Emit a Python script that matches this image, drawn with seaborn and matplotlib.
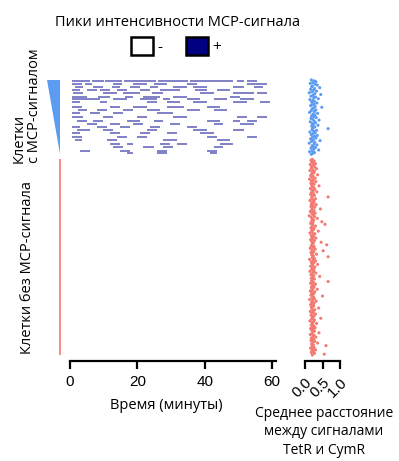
import numpy as np
import pandas as pd
import seaborn as sns
import matplotlib.pyplot as plt
from matplotlib.patches import Patch

# cells with MCP signal: row index -> list of peak spans (start, end) in minutes
peak_cells = [1, 5, 8, 12, 15, 20, 22, 26, 32, 35, 39, 43, 48, 52, 55, 59, 62, 67, 70, 75, 78, 83, 85]
peak_spans = [
    [(0.5, 6), (6.5, 10), (10.5, 15.5), (16, 25.5), (26, 35), (35.5, 48.5), (49.5, 51.5), (52.5, 55.5)],
    [(0.5, 3.5), (4.5, 6.4), (12.9, 15.3), (18.8, 22.8), (24.8, 28.7), (34.7, 37.6), (52.5, 58.4)],
    [(1.5, 4), (6.9, 9.9), (12.4, 14.9), (17.8, 20.8), (23.8, 26.2), (30.7, 34.7), (36.6, 40.6), (48.5, 51.5), (54.5, 57.4)],
    [(0.5, 3), (5, 7.9), (8.9, 11.9), (13.9, 16.8), (20.8, 23.8), (26.7, 32.7), (37.1, 40.6), (43.6, 47.5)],
    [(1, 4), (9.9, 13.9), (15.8, 20.8), (24.3, 27.7), (38.6, 42.6), (48.5, 54.5), (55.4, 58.4)],
    [(0.5, 5), (8.4, 11.9), (16.3, 18.8), (21.8, 26.7), (30.7, 34.7), (47.5, 50.5)],
    [(0.5, 8.9), (12.9, 16.8), (20.8, 25.7), (27.7, 29.7), (34.7, 38.6), (42.6, 46.5), (50.5, 54.5)],
    [(0.5, 3), (8.9, 10.9), (22.8, 25.7), (28.7, 32.7), (36.6, 40.6), (48.5, 52.5), (56.4, 59.4)],
    [(0.5, 3.5), (11.9, 14.9), (18.8, 22.8), (28.7, 33.7), (40.6, 44.6)],
    [(2.5, 5), (7.9, 10.9), (15.8, 18.8), (22.8, 26.7), (34.7, 38.6), (42.6, 46.5)],
    [(0.5, 3), (5.9, 8.9), (12.9, 15.8), (25.7, 30.7)],
    [(0.5, 4), (9.9, 12.9), (19.8, 22.8), (30.7, 34.7), (49.5, 52.5), (55.4, 58.4)],
    [(2, 5), (6.9, 9.9), (16.8, 20.8), (24.8, 27.7), (40.6, 44.6), (48.5, 50.5), (52.5, 55.4)],
    [(5, 7.9), (11.9, 14.9), (18.8, 21.8), (29.7, 32.7), (42.6, 45.5), (50.5, 54.5)],
    [(0.5, 3), (7.9, 10.9), (14.9, 17.8), (23.8, 26.7), (34.7, 37.6)],
    [(2, 5.9), (9.9, 12.9), (22.8, 25.7), (36.6, 40.6), (48.5, 51.5)],
    [(0.5, 3), (11.9, 14.9), (20.8, 23.8), (28.7, 31.7), (38.6, 42.6)],
    [(0.5, 3.5), (13.9, 16.8), (19.8, 22.8), (40.6, 43.6), (52.5, 55.4)],
    [(1.5, 3.5), (10.9, 13.9), (27.7, 31.7), (43.6, 47.5)],
    [(11.9, 14.9), (16.8, 18.8), (26.7, 29.7), (31.7, 34.7), (44.6, 48.5)],
    [(12.9, 15.8), (21.8, 24.8), (27.7, 30.7), (42.6, 45.5)],
    [(3, 5.9), (14.9, 17.8), (25.7, 28.7), (40.6, 43.6)],
    [(16.8, 18.8), (25.7, 28.7), (41.6, 43.6)],
]

# mean TetR-CymR distance per cell
dist_mcp = [
    0.18, 0.26, 0.31, 0.22, 0.15, 0.29, 0.35, 0.21, 0.19, 0.42,
    0.27, 0.16, 0.24, 0.33, 0.2, 0.12, 0.28, 0.45, 0.23, 0.17,
    0.3, 0.25, 0.38, 0.14, 0.22, 0.27, 0.19, 0.34, 0.26, 0.21,
    0.16, 0.29, 0.48, 0.24, 0.2, 0.31, 0.18, 0.27, 0.13, 0.36,
    0.23, 0.28, 0.19, 0.25, 0.32, 0.17, 0.22, 0.4, 0.26, 0.15,
    0.3, 0.21, 0.24, 0.37, 0.19, 0.28, 0.23, 0.66, 0.2, 0.33,
    0.25, 0.14, 0.29, 0.22, 0.18, 0.35, 0.27, 0.21, 0.31, 0.16,
    0.24, 0.43, 0.19, 0.28, 0.12, 0.26, 0.34, 0.2, 0.23, 0.3,
    0.17, 0.25, 0.39, 0.21, 0.13, 0.27, 0.22, 0.18,
]
dist_none = [
    0.21, 0.17, 0.26, 0.19, 0.23, 0.3, 0.15, 0.24, 0.2, 0.28,
    0.18, 0.33, 0.22, 0.14, 0.27, 0.21, 0.25, 0.19, 0.36, 0.16,
    0.23, 0.2, 0.29, 0.13, 0.24, 0.18, 0.31, 0.22, 0.17, 0.26,
    0.19, 0.4, 0.21, 0.25, 0.15, 0.28, 0.2, 0.23, 0.34, 0.18,
    0.24, 0.16, 0.27, 0.21, 0.66, 0.19, 0.3, 0.22, 0.14, 0.26,
    0.2, 0.25, 0.18, 0.32, 0.23, 0.17, 0.28, 0.21, 0.44, 0.19,
    0.26, 0.15, 0.22, 0.29, 0.2, 0.24, 0.12, 0.27, 0.18, 0.35,
    0.21, 0.25, 0.19, 0.48, 0.23, 0.16, 0.57, 0.22, 0.3, 0.2,
    0.17, 0.26, 0.24, 0.19, 0.38, 0.21, 0.14, 0.28, 0.23, 0.18,
    0.25, 0.2, 0.31, 0.22, 0.16, 0.27, 0.19, 0.46, 0.24, 0.21,
    0.62, 0.18, 0.26, 0.23, 0.15, 0.29, 0.2, 0.52, 0.25, 0.17,
    0.22, 0.33, 0.19, 0.24, 0.66, 0.21, 0.27, 0.13, 0.23, 0.3,
    0.18, 0.25, 0.2, 0.36, 0.22, 0.16, 0.28, 0.21, 0.24, 0.19,
    0.26, 0.14, 0.23, 0.31, 0.2, 0.17, 0.25, 0.42, 0.22, 0.18,
    0.27, 0.21, 0.19, 0.66, 0.24, 0.16, 0.3, 0.22, 0.2, 0.26,
    0.18, 0.23, 0.35, 0.21, 0.15, 0.28, 0.19, 0.25, 0.22, 0.17,
    0.5, 0.24, 0.2, 0.27, 0.13, 0.22, 0.32, 0.19, 0.26, 0.21,
    0.16, 0.25, 0.23, 0.18, 0.39, 0.2, 0.28, 0.22, 0.15, 0.24,
    0.21, 0.3, 0.17, 0.26, 0.2, 0.23, 0.45, 0.19, 0.27, 0.14,
    0.24, 0.2, 0.33, 0.22, 0.18, 0.25, 0.21, 0.29, 0.16, 0.23,
    0.19, 0.27, 0.22, 0.4, 0.2, 0.15, 0.26, 0.23, 0.31, 0.18,
    0.25, 0.21, 0.17, 0.28, 0.22, 0.36, 0.19, 0.24, 0.6, 0.2,
    0.26, 0.16, 0.23, 0.3, 0.2, 0.24, 0.18, 0.27, 0.55, 0.21,
]

time_ticks = [0, 20, 40, 60]
dist_ticks = [0.0, 0.5, 1.0]

blue = "#5b9bf0"
red = "#f27a72"
navy = "#4545ad"

n_mcp = len(dist_mcp)
gap = 5
none_start = n_mcp + gap
cells_mcp = np.arange(n_mcp)
cells_none = np.arange(none_start, none_start + len(dist_none))

df = pd.DataFrame({
    "cell": np.concatenate([cells_mcp, cells_none]),
    "dist": dist_mcp + dist_none,
    "group": ["mcp"] * n_mcp + ["none"] * len(dist_none),
})

sns.set_style("white")
plt.rcParams["font.family"] = ["Open Sans", "DejaVu Sans"]
plt.rcParams["text.color"] = "black"

W, H = 399, 461
fig = plt.figure(figsize=(W / 100, H / 100), dpi=100)

ylo, yhi = 329, -2.3
bot, top = 1 - 361 / H, 1 - 78 / H

ax = fig.add_axes([70 / W, bot, 205.6 / W, top - bot])
ax_grp = fig.add_axes([44 / W, bot, 18 / W, top - bot])
ax_sc = fig.add_axes([305 / W, bot, 35 / W, top - bot])

# peak raster
for cell, spans in zip(peak_cells, peak_spans):
    starts = [s for s, e in spans]
    ends = [e for s, e in spans]
    ax.hlines([cell] * len(spans), starts, ends, color=navy, lw=1.2, alpha=0.8)

ax.set_xlim(0, 61)
ax.set_ylim(ylo, yhi)

# group markers
ax_grp.fill([0.17, 0.89, 0.89], [0, 0, n_mcp - 1], color=blue, lw=0)
ax_grp.vlines(0.89, cells_none[0], cells_none[-1], color=red, lw=1.2)
ax_grp.set_xlim(0, 1)
ax_grp.set_ylim(ylo, yhi)
ax_grp.axis("off")

# distance scatter
sns.scatterplot(data=df, x="dist", y="cell", hue="group",
                palette={"mcp": blue, "none": red}, s=5, linewidth=0,
                legend=False, ax=ax_sc)
ax_sc.set_xlim(0, 1)
ax_sc.set_ylim(ylo, yhi)

tick_font = {"family": ["Liberation Sans", "DejaVu Sans"], "size": 11}
for a, ticks in [(ax, time_ticks), (ax_sc, dist_ticks)]:
    for side in ["top", "right", "left"]:
        a.spines[side].set_visible(False)
    a.spines["bottom"].set_linewidth(1.6)
    a.spines["bottom"].set_color("black")
    a.set_yticks([])
    a.set_xticks(ticks)
    a.tick_params(axis="x", bottom=True, direction="out", length=6, width=1.6,
                  color="black", labelcolor="black", pad=4)
    a.set_xlabel("")
    a.set_ylabel("")

ax.set_xticklabels([str(t) for t in time_ticks], fontdict=tick_font)
ax_sc.set_xticklabels([f"{t:.1f}" for t in dist_ticks], fontdict=tick_font,
                      rotation=45, ha="right", rotation_mode="anchor")

# texts
fig.text(178 / W, 1 - 23 / H, "Пики интенсивности MCP-сигнала", ha="center", va="center", fontsize=10.5)
fig.legend(handles=[Patch(facecolor="white", edgecolor="black", lw=1.8),
                    Patch(facecolor="#000080", edgecolor="black", lw=1.8)],
           labels=["-", "+"], loc="center", bbox_to_anchor=(176 / W, 1 - 46 / H),
           ncol=2, frameon=False, handlelength=1.45, handleheight=1.45,
           handletextpad=0.3, columnspacing=1.5, fontsize=11)

fig.text(27 / W, 1 - 163 / H, "Клетки\nс MCP-сигналом", rotation=90, ha="center", va="bottom",
         multialignment="left", fontsize=10.5, linespacing=1.05)
fig.text(28 / W, 1 - 267 / H, "Клетки без MCP-сигнала", rotation=90, ha="center", va="center",
         fontsize=10.5)
fig.text(166 / W, 1 - 405 / H, "Время (минуты)", ha="center", va="center", fontsize=10.5)
fig.text(324 / W, 1 - 406 / H, "Среднее расстояние\nмежду сигналами\nTetR и CymR",
         ha="center", va="top", fontsize=10, linespacing=1.3)

fig.savefig("out.png", dpi=100)
